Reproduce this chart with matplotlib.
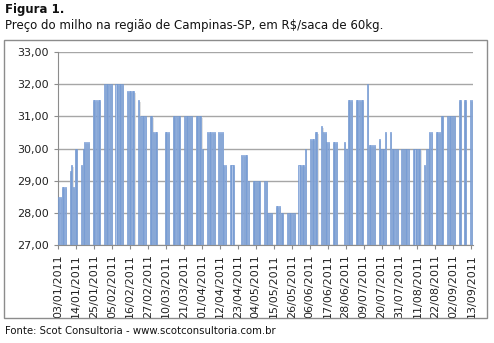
import matplotlib
matplotlib.use('Agg')
import matplotlib.pyplot as plt
import numpy as np
import pandas as pd
from matplotlib.patches import Rectangle

# ------------ DATA ----------------------------
start = '2011-01-03'
end = '2011-09-13'
holidays = ['2011-03-07', '2011-03-08', '2011-04-21', '2011-04-22',
            '2011-06-23', '2011-06-24', '2011-09-07']

# R$/saca, one value per trading day (week by week)
prices = [
    28.5, 28.5, 28.8, 28.8, 28.8,
    29.3, 29.5, 28.8, 30.0, 30.0,
    29.5, 30.0, 30.2, 30.2, 30.2,
    31.5, 31.5, 31.5, 31.5, 31.5,
    32.0, 32.0, 32.0, 32.0, 32.0,
    32.0, 32.0, 32.0, 32.0, 32.0,
    31.8, 31.8, 31.8, 31.8, 31.8,
    31.5, 31.0, 31.0, 31.0, 31.0,
    31.0, 31.0, 30.5, 30.5, 30.5,
    30.5, 30.5, 30.5,
    31.0, 31.0, 31.0, 31.0, 31.0,
    31.0, 31.0, 31.0, 31.0, 31.0,
    31.0, 31.0, 31.0, 31.0, 30.0,
    30.5, 30.5, 30.5, 30.5, 30.5,
    30.5, 30.5, 30.5, 29.5, 29.5,
    29.5, 29.5, 29.5,
    29.8, 29.8, 29.8, 29.8, 29.0,
    29.0, 29.0, 29.0, 29.0, 29.0,
    29.0, 29.0, 28.0, 28.0, 28.0,
    28.2, 28.2, 28.2, 28.0, 28.0,
    28.0, 28.0, 28.0, 28.0, 28.0,
    29.5, 29.5, 29.5, 29.5, 30.0,
    30.3, 30.3, 30.3, 30.5, 30.5,
    30.7, 30.5, 30.5, 30.2, 30.2,
    30.2, 30.2, 30.2,
    30.2, 30.0, 31.5, 31.5, 31.5,
    31.5, 31.5, 31.5, 31.5, 31.5,
    32.0, 30.1, 30.1, 30.1, 30.1,
    30.3, 30.0, 30.0, 30.0, 30.5,
    30.5, 30.0, 30.0, 30.0, 30.0,
    30.0, 30.0, 30.0, 30.0, 30.0,
    30.0, 30.0, 30.0, 30.0, 30.0,
    29.5, 30.0, 30.0, 30.5, 30.5,
    30.5, 30.5, 30.5, 31.0, 31.0,
    31.0, 31.0, 31.0, 31.0, 31.0,
    31.5, 31.5, 31.5, 31.5,
    31.5, 31.5,
]

y_ticks = [27, 28, 29, 30, 31, 32, 33]

title1 = 'Figura 1.'
title2 = 'Preço do milho na região de Campinas-SP, em R$/saca de 60kg.'
source = 'Fonte: Scot Consultoria - www.scotconsultoria.com.br'

# ------------ PREP ----------------------------
days = pd.bdate_range(start, end)
days = days[~days.isin(pd.to_datetime(holidays))]
t0 = pd.Timestamp(start)
x = np.array([(d - t0).days for d in days]) + 0.5
prices = np.array(prices)

ndays = (pd.Timestamp(end) - t0).days
tick_pos = np.arange(0, ndays + 1, 11)
tick_lab = [(t0 + pd.Timedelta(days=int(p))).strftime('%d/%m/%Y') for p in tick_pos]

# ------------ DRAW ----------------------------
W, H = 494, 343
fig = plt.figure(figsize=(W / 100, H / 100), dpi=100)

# outer chart frame
fig.patches.append(Rectangle((4 / W, 1 - 318 / H), 483 / W, 278 / H,
                             transform=fig.transFigure, fill=False,
                             edgecolor='#8c8c8c', lw=1.0))

ax = fig.add_axes([58 / W, 1 - 245 / H, 415 / W, 193 / H])

# soft shadow then bars
ax.bar(x + 0.55, prices - 27.06, bottom=27, width=0.9, color='#dadada',
       alpha=0.8, zorder=2)
ax.bar(x, prices - 27, bottom=27, width=0.62, color='#adc3e6',
       edgecolor='#6690cf', linewidth=0.45, zorder=3)

ax.set_xlim(0, ndays + 1)
ax.set_ylim(27, 33)
ax.set_yticks(y_ticks)
ax.set_yticklabels([('%.2f' % v).replace('.', ',') for v in y_ticks])
ax.set_xticks(tick_pos)
ax.set_xticklabels(tick_lab, rotation=90)

ax.grid(axis='y', color='#a6a6a6', lw=1.0, zorder=1)
for s in ['top', 'right']:
    ax.spines[s].set_visible(False)
for s in ['left', 'bottom']:
    ax.spines[s].set_color('#8c8c8c')
ax.tick_params(axis='both', colors='#8c8c8c', labelcolor='#222222',
               labelsize=8, length=3)

fig.text(5 / W, 1 - 9 / H, title1, fontsize=8.5, fontweight='bold',
         va='center', ha='left', color='#111111')
fig.text(5 / W, 1 - 25 / H, title2, fontsize=8.5, va='center', ha='left',
         color='#111111')
fig.text(5 / W, 1 - 331 / H, source, fontsize=7.3, va='center', ha='left',
         color='#111111')

plt.savefig('out.png', dpi=100)
